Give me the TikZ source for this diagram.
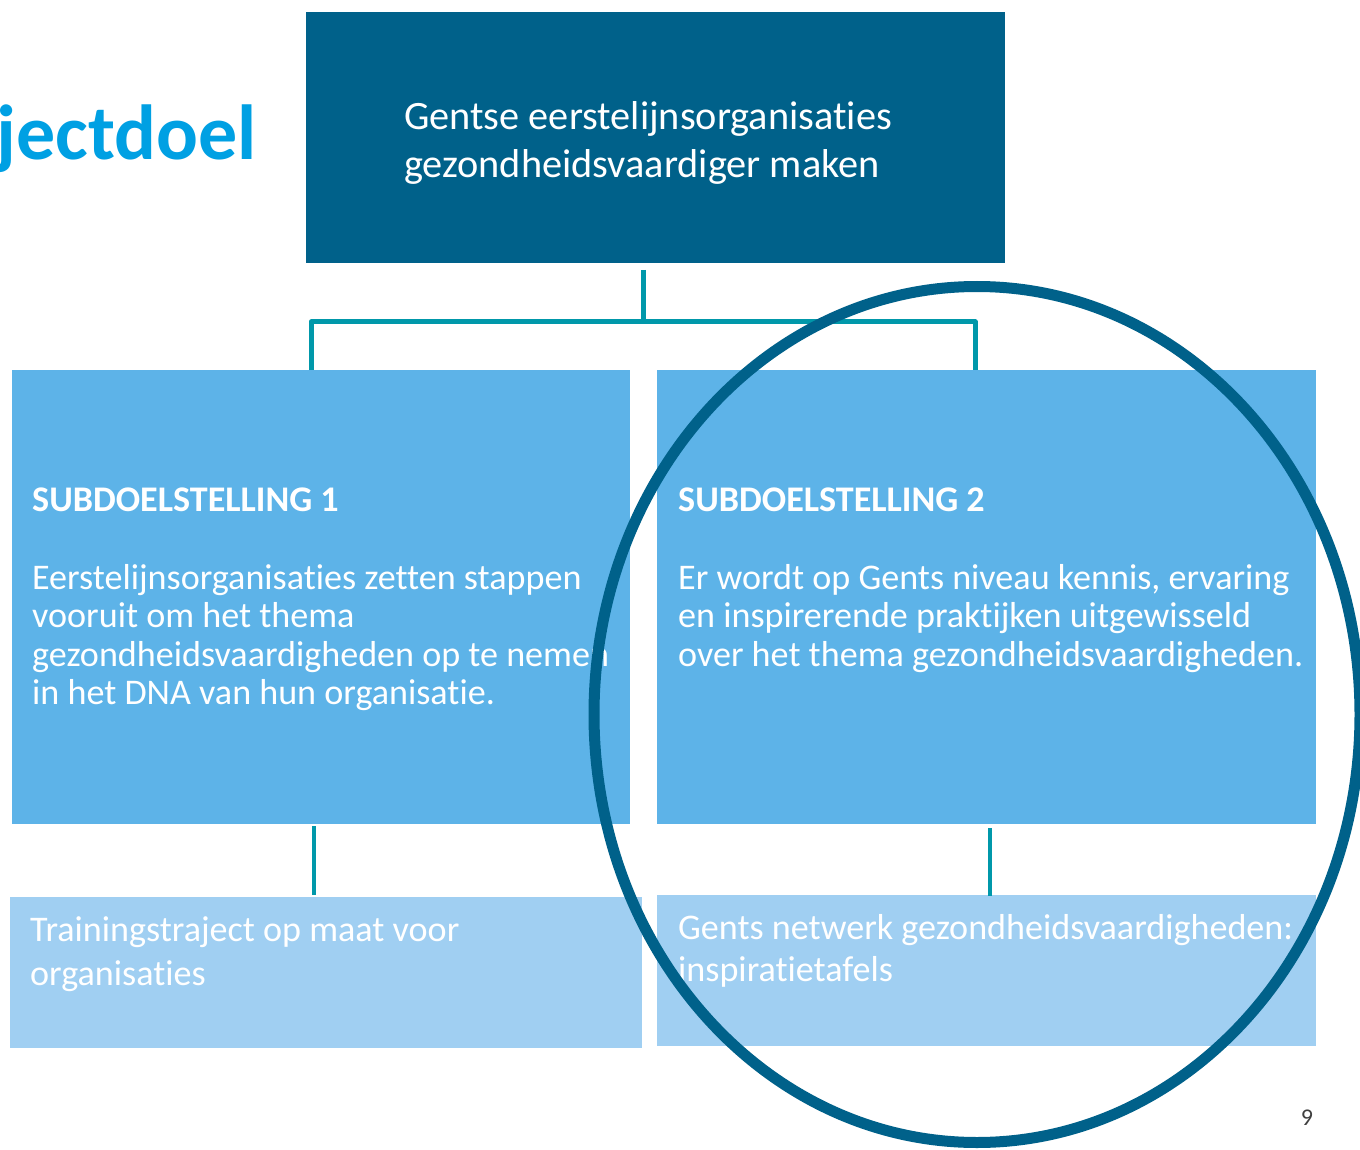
\documentclass[tikz,border=0pt]{standalone}
\usepackage{fontspec}
\setmainfont{Carlito}[RawFeature={-liga}]
\definecolor{darkblue}{RGB}{0,97,138}
\definecolor{teal}{RGB}{0,152,170}
\definecolor{midblue}{RGB}{93,179,232}
\definecolor{lightblue}{RGB}{160,207,242}
\definecolor{titleblue}{RGB}{0,160,227}
\definecolor{pagegray}{RGB}{64,64,64}
\tikzset{
  boxfill/.style={fill=#1, draw=none},
  connector/.style={draw=teal, line width=5pt},
  connectorthin/.style={draw=teal, line width=4pt},
  txt/.style={anchor=base west, inner sep=0pt, text=white, font=\fontsize{36.1}{38.5}\selectfont},
  txtbold/.style={txt, font=\fontsize{36.1}{38.5}\selectfont\bfseries},
  toptxt/.style={anchor=base west, inner sep=0pt, text=white, font=\fontsize{40.3}{48}\selectfont},
}
\begin{document}
\begin{tikzpicture}[x=1pt,y=-1pt]
\useasboundingbox (0,0) rectangle (1360,1150);
\fill[white] (0,0) rectangle (1360,1150);

% boxes
\path[boxfill=darkblue] (306,12) rectangle (1005,263);
\coordinate (topbox-s) at (643,270);
\path[boxfill=midblue] (12,370) rectangle (630,824);
\path[boxfill=midblue] (657,370) rectangle (1316,824);
\path[boxfill=lightblue] (10,897) rectangle (642,1048);
\path[boxfill=lightblue] (657,895) rectangle (1316,1046);

% connector coordinates
\coordinate (hub) at (643,322);
\coordinate (sdA-n) at (311,370);
\coordinate (sdB-n) at (975,370);
\coordinate (sdA-corner) at (311,322);
\coordinate (sdB-corner) at (975,322);
\coordinate (sdA-s) at (314,826);
\coordinate (trA-n) at (314,895);
\coordinate (sdB-s) at (990,828);
\coordinate (trB-n) at (990,896);

\draw[connector] (topbox-s) -- (hub);
\draw[connector, line join=round] (sdA-n) -- (sdA-corner) -- (sdB-corner) -- (sdB-n);
\draw[connectorthin] (sdA-s) -- (trA-n);
\draw[connectorthin] (sdB-s) -- (trB-n);

% top box text
\node[toptxt] (topA) at (404,130) {Gentse eerstelijnsorganisaties};
\node[toptxt] (topB) at (404,178) {gezondheidsvaardiger maken};

% subdoelstelling 1
\node[txtbold] (sdAh) at (32,511) {SUBDOELSTELLING 1};
\node[txt] (sdA1) at (32,589) {Eerstelijnsorganisaties zetten stappen};
\node[txt] (sdA2) at (32,627.5) {vooruit om het thema};
\node[txt] (sdA3) at (32,666) {gezondheidsvaardigheden op te nemen};
\node[txt] (sdA4) at (32,704.5) {in het DNA van hun organisatie.};

% subdoelstelling 2
\node[txtbold] (sdBh) at (678,511) {SUBDOELSTELLING 2};
\node[txt] (sdB1) at (678,589) {Er wordt op Gents niveau kennis, ervaring};
\node[txt] (sdB2) at (678,627.5) {en inspirerende praktijken uitgewisseld};
\node[txt] (sdB3) at (678,666) {over het thema gezondheidsvaardigheden.};

% lower boxes
\node[txt] (trA1) at (30,941) {Trainingstraject op maat voor};
\node[txt] (trA2) at (30,985) {organisaties};
\node[txt] (trB1) at (678,939) {Gents netwerk gezondheidsvaardigheden:};
\node[txt] (trB2) at (678,981) {inspiratietafels};

% highlight ellipse
\draw[darkblue, line width=11pt] (977,714.5) ellipse [x radius=383, y radius=428];

% title
\node[anchor=base east, inner sep=0pt, text=titleblue, font=\fontsize{78}{80}\selectfont\bfseries] (title) at (257,160) {jectdoel};

% page number
\node[anchor=base, inner sep=0pt, text=pagegray, font=\fontsize{24}{26}\selectfont] (page) at (1307,1125) {9};
\end{tikzpicture}
\end{document}
